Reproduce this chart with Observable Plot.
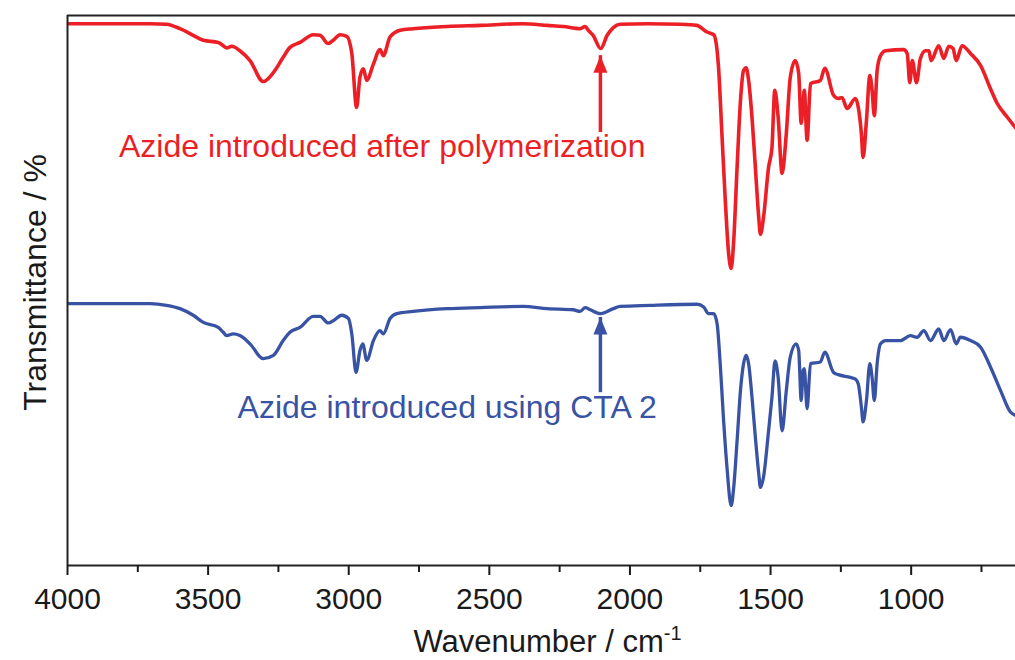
<!DOCTYPE html>
<html>
<head>
<meta charset="utf-8">
<script src="https://cdn.jsdelivr.net/npm/d3@7"></script>
<script src="https://cdn.jsdelivr.net/npm/@observablehq/plot@0.6"></script>
<style>
  html, body { margin: 0; padding: 0; background: #ffffff; }
  #chart { width: 1015px; height: 660px; }
</style>
</head>
<body>
<div id="chart"></div>
<script>
// ---- Data ----
const redWavenumber = [4000,3885,3707,3648,3600,3553,3517,3464,3446,3434,3416,3387,3351,3304,3268,3233,3209,3173,3126,3102,3073,3055,3031,3007,2989,2972,2960,2948,2936,2912,2889,2877,2853,2817,2771,2650,2533,2380,2294,2237,2177,2159,2148,2131,2104,2081,2059,2035,1938,1821,1762,1726,1702,1690,1685,1673,1661,1649,1640,1631,1619,1607,1596,1587,1578,1566,1554,1542,1536,1525,1507,1495,1485,1473,1459,1444,1430,1412,1400,1391,1384,1380,1370,1358,1323,1307,1276,1259,1246,1228,1198,1188,1177,1171,1159,1147,1139,1131,1121,1109,1091,1027,1014,1005,996,981,967,949,937,929,902,884,866,851,840,819,789,753,718,694,658,629];
const redTransmittance = [98.5,98.5,98.5,98.4,97.6,96.4,95.5,95.1,94.5,94.1,94.4,93.6,91.8,88.0,89.6,92.4,94.2,95.1,96.5,96.4,94.9,95.5,96.5,96.2,93.1,83.3,88.8,90.3,88.2,91.2,93.8,92.7,96.1,97.3,97.6,98.0,98.2,98.5,98.2,98.0,97.6,98.0,97.3,96.4,94.0,96.4,97.8,98.4,98.5,98.4,98.2,97.0,96.5,93.6,90.6,78.5,66.4,56.7,54.0,59.1,72.4,84.5,90.0,90.5,88.2,81.5,72.4,63.3,60.2,63.3,72.4,76.0,86.4,81.5,71.3,78.5,88.7,91.8,89.5,80.4,84.5,86.4,77.3,87.6,88.2,90.4,85.5,84.9,85.1,83.1,84.9,83.3,78.5,74.2,80.9,89.1,86.4,81.8,90.0,92.7,93.6,93.8,93.1,87.8,91.8,87.8,92.2,93.6,93.6,91.8,94.5,92.2,94.4,94.0,91.8,94.5,93.1,90.9,86.7,84.0,81.5,79.6];

const blueWavenumber = [4000,3885,3707,3648,3600,3553,3517,3464,3446,3434,3411,3387,3351,3304,3268,3233,3209,3173,3126,3102,3073,3055,3025,3001,2989,2974,2960,2950,2936,2912,2889,2877,2853,2829,2771,2650,2533,2380,2294,2202,2177,2159,2141,2104,2059,2035,1928,1761,1738,1720,1702,1690,1679,1667,1655,1640,1631,1619,1607,1596,1587,1578,1566,1554,1542,1536,1525,1507,1495,1484,1473,1459,1444,1430,1409,1400,1391,1384,1380,1370,1358,1323,1307,1276,1259,1216,1198,1188,1177,1171,1159,1147,1139,1131,1121,1109,1091,1038,1003,979,955,931,902,884,860,840,825,789,753,718,682,647,629];
const blueTransmittance = [47.6,47.6,47.6,47.3,46.7,45.5,44.2,43.3,42.4,41.8,42.1,41.8,40.3,37.6,38.2,40.9,42.4,43.3,45.3,45.3,44.1,44.5,45.5,44.9,42.1,35.1,39.1,40.3,37.3,40.9,42.7,42.1,44.9,45.8,46.2,46.7,46.9,47.1,46.7,46.5,46.2,46.9,46.5,45.8,46.7,47.1,47.3,47.5,47.0,45.8,45.8,43.9,36.7,26.4,17.9,10.9,14.2,22.7,31.8,36.7,38.2,36.7,30.6,23.3,16.7,14.2,16.1,24.5,30.6,37.2,34.2,24.5,31.8,37.9,40.3,39.1,30.0,35.5,35.8,28.5,36.7,37.0,38.8,35.1,34.7,34.2,33.9,33.0,28.8,26.1,30.0,36.7,34.2,30.0,36.7,40.3,40.9,40.9,41.8,41.5,42.7,40.9,43.0,40.9,42.9,40.3,41.5,40.9,39.7,36.1,31.8,27.9,27.3];

const majorTicks = [4000, 3500, 3000, 2500, 2000, 1500, 1000];
const minorTicks = [3750, 3250, 2750, 2250, 1750, 1250, 750];

const annotationLabels = ["Azide introduced after polymerization", "Azide introduced using CTA 2"];
const annotationX = [2881, 2650];
const annotationY = [74.2, 26.9];
const arrowX = [2105, 2105];
const arrowTail = [80.9, 33.6];
const arrowTip = [92.7, 45.1];

const seriesColors = ["#ec1f26", "#3953a4"];
const xTitle = "Wavenumber / cm";
const xTitleSup = "-1";
const yTitle = "Transmittance / %";

// ---- Tables built from the arrays ----
const red = redWavenumber.map((w, i) => ({w, t: redTransmittance[i]}));
const blue = blueWavenumber.map((w, i) => ({w, t: blueTransmittance[i]}));
const notes = annotationLabels.map((label, i) => ({label, x: annotationX[i], y: annotationY[i], color: seriesColors[i]}));
const arrows = arrowX.map((x, i) => ({x, y1: arrowTail[i], y2: arrowTip[i], color: seriesColors[i]}));

const arrowHead = {
  draw(context) {
    context.moveTo(0, 0);
    context.lineTo(-7, 17);
    context.lineTo(7, 17);
    context.closePath();
  }
};

const fontFamily = "'Liberation Sans', Arial, Helvetica, sans-serif";

const chart = Plot.plot({
  width: 1015,
  height: 660,
  marginLeft: 67,
  marginRight: 0,
  marginTop: 15,
  marginBottom: 95,
  style: {fontFamily, color: "#1a1a1a", background: "#ffffff", overflow: "visible"},
  x: {domain: [4000, 629], axis: null},
  y: {domain: [0, 100], axis: null},
  marks: [
    Plot.line(blue, {x: "w", y: "t", stroke: seriesColors[1], strokeWidth: 3.3, curve: "monotone-x", strokeLinejoin: "round", clip: true}),
    Plot.line(red, {x: "w", y: "t", stroke: seriesColors[0], strokeWidth: 3.6, curve: "monotone-x", strokeLinejoin: "round", clip: true}),
    Plot.ruleY([0, 100], {stroke: "#222", strokeWidth: 2}),
    Plot.ruleX([4000], {stroke: "#222", strokeWidth: 2}),
    Plot.axisX(minorTicks, {anchor: "bottom", tickSize: 7, strokeWidth: 2, fill: "none", label: null}),
    Plot.axisX(majorTicks, {anchor: "bottom", tickSize: 10, tickPadding: 12, strokeWidth: 2, fontSize: 30, tickFormat: d => `${d}`, label: null}),
    Plot.ruleX(arrows, {x: "x", y1: "y1", y2: "y2", stroke: "color", strokeWidth: 3.5, insetTop: 12}),
    Plot.dot(arrows, {x: "x", y: "y2", symbol: arrowHead, fill: "color", stroke: "none", r: 8}),
    Plot.text(notes, {x: "x", y: "y", text: "label", fill: "color", fontSize: 32, lineAnchor: "bottom", textAnchor: "middle"}),
    Plot.text([yTitle], {frameAnchor: "left", rotate: -90, dx: -32, dy: -8, fontSize: 32, fill: "#1a1a1a", textAnchor: "middle", lineAnchor: "middle"}),
    Plot.text([xTitle], {frameAnchor: "bottom", dx: 6, dy: 86, fontSize: 31, fill: "#1a1a1a", textAnchor: "middle", lineAnchor: "bottom"})
  ]
});

document.getElementById("chart").appendChild(chart);

// superscript on the x title
d3.select(chart).selectAll("text")
  .filter(function() { return this.textContent === xTitle; })
  .append("tspan")
  .attr("dy", "-12")
  .attr("font-size", "20")
  .text(xTitleSup);
</script>
</body>
</html>
